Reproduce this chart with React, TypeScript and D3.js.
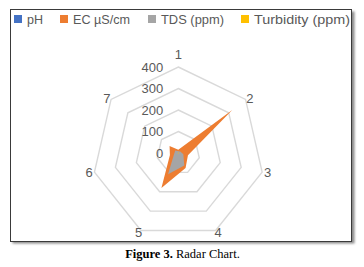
import React from "react";
import * as d3 from "d3";

const categories = ["1", "2", "3", "4", "5", "6", "7"];
const phValues = [7.2, 7.0, 7.4, 7.1, 6.9, 7.3, 7.0];
const ecValues = [15, 321, 46, 78, 181, 40, 52];
const tdsValues = [8, 12, 24, 64, 110, 20, 18];
const turbidityValues = [2, 3, 1.5, 2, 4, 2.5, 1.8];
const tickValues = [0, 100, 200, 300, 400];

const seriesNames = ["pH", "EC µS/cm", "TDS (ppm)", "Turbidity (ppm)"];
const seriesColors = ["#4472C4", "#ED7D31", "#A5A5A5", "#FFC000"];
const seriesData = [phValues, ecValues, tdsValues, turbidityValues];

const W = 364;
const H = 267;
const cx = 178.3;
const cy = 153;
const R = 86;

export default function App() {
  const r = d3.scaleLinear().domain([0, 400]).range([0, R]);
  const n = categories.length;
  const angle = d3
    .scaleLinear()
    .domain([0, n])
    .range([0, 2 * Math.PI]);

  const radial = d3
    .lineRadial<number>()
    .angle((_, i) => angle(i))
    .radius((v) => r(v))
    .curve(d3.curveLinearClosed);

  const ringLine = (v: number) =>
    radial(categories.map(() => v)) || "";

  const legendX = [14, 60, 148, 241];
  const legendW = [16, 57, 63, 96];

  return (
    <svg
      width={W}
      height={H}
      style={{ position: "absolute", left: 0, top: 0 }}
      fontFamily="'Liberation Sans', Arial, sans-serif"
    >
      <defs>
        <filter id="shadow" x="-5%" y="-5%" width="110%" height="110%">
          <feGaussianBlur stdDeviation="1.2" />
        </filter>
      </defs>
      <rect width={W} height={H} fill="#fff" />
      <rect x={12.5} y={11.5} width={342} height={232} fill="#8a8a8a" filter="url(#shadow)" />
      <rect x={10.5} y={9.5} width={341} height={232} fill="#fff" stroke="#3a3a3a" strokeWidth={1} />

      {/* legend */}
      {seriesNames.map((name, i) => (
        <g key={name}>
          <rect x={legendX[i]} y={15} width={8} height={8} fill={seriesColors[i]} />
          <text
            x={legendX[i] + 13}
            y={19}
            dominantBaseline="central"
            fontSize={13}
            fill="#595959"
            textLength={legendW[i]}
            lengthAdjust="spacingAndGlyphs"
          >
            {name}
          </text>
        </g>
      ))}

      <g transform={`translate(${cx},${cy})`}>
        {/* rings */}
        {tickValues
          .filter((t) => t > 0)
          .map((t) => (
            <path key={t} d={ringLine(t)} fill="none" stroke="#D9D9D9" strokeWidth={1.4} />
          ))}

        {/* series */}
        {seriesData.map((vals, i) => (
          <path key={i} d={radial(vals) || ""} fill={seriesColors[i]} stroke="none" />
        ))}

        {/* tick labels */}
        {tickValues.map((t) => (
          <text
            key={t}
            x={-15}
            y={-r(t)}
            textAnchor="end"
            dominantBaseline="central"
            fontSize={13}
            fill="#595959"
          >
            {t}
          </text>
        ))}

        {/* category labels */}
        {categories.map((c, i) => {
          const a = angle(i);
          const dx = Math.sin(a);
          const dy = -Math.cos(a);
          const vx = dx * R;
          const vy = dy * R;
          const ox = dx * 5.5;
          const oy = Math.abs(dy) > 0.99 ? dy * 12.7 : dy * 2;
          return (
            <text
              key={c}
              x={vx + ox}
              y={vy + oy}
              textAnchor="middle"
              dominantBaseline="central"
              fontSize={13}
              fill="#595959"
            >
              {c}
            </text>
          );
        })}
      </g>

      <text
        x={182.5}
        y={258}
        textAnchor="middle"
        fontFamily="'Liberation Serif', 'Times New Roman', serif"
        fontSize={12.5}
        fill="#000"
      >
        <tspan fontWeight="bold">Figure 3.</tspan> Radar Chart.
      </text>
    </svg>
  );
}
